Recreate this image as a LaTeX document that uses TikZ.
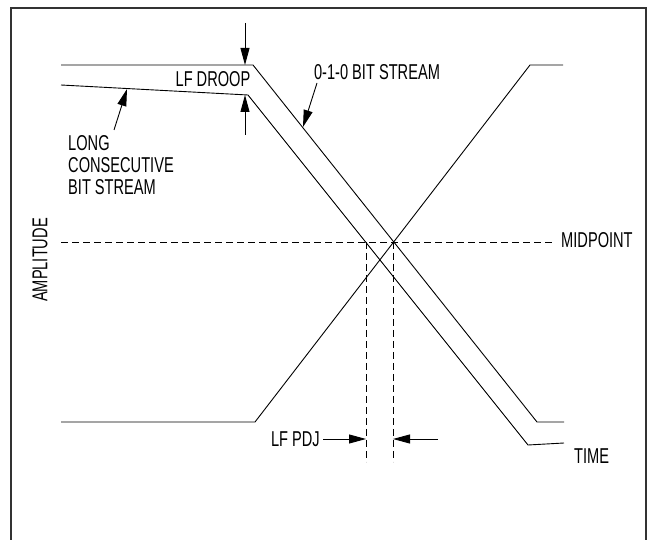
\documentclass[tikz,border=0pt]{standalone}
\usepackage{fontspec}
\setmainfont{Liberation Sans}[FakeStretch=0.68]
\usetikzlibrary{arrows.meta}

\tikzset{
  wave/.style={black,line width=0.9pt,line join=miter},
  guide/.style={black,line width=0.9pt,dash pattern=on 7pt off 4pt},
  callout/.style={black,line width=0.9pt,-{Triangle[length=17pt,width=9pt]}},
  lbl/.style={inner sep=0pt,font=\fontsize{21.5}{22}\selectfont}
}

\begin{document}
\begin{tikzpicture}[x=1pt,y=-1pt,line cap=butt]
\useasboundingbox (0,0) rectangle (649,540);
% frame, open at the bottom
\draw[black!80,line width=2.2pt] (11,540) -- (11,8) -- (646,8) -- (646,540);

% waveforms
\draw[wave] (61,65) -- (253,65) -- (537,422) -- (564,422);
\draw[wave] (61,85) -- (248,95) -- (528,445) -- (564,443);
\draw[wave] (61,422) -- (255,422) -- (530,65) -- (563,65);

% midpoint and jitter guides
\draw[guide] (61,242) -- (553,242);
\coordinate (cross1) at (366,242);
\coordinate (cross2) at (393,242);
\draw[guide] (cross1) -- (366,462);
\draw[guide] (cross2) -- (393,462);

% labels
\node[lbl] (droop) at (213,79) {LF DROOP};
\node[lbl] (stream) at (377,72) {0-1-0 BIT STREAM};
\node[lbl,anchor=west,align=left] (long) at (68,165) {LONG\\CONSECUTIVE\\BIT STREAM};
\node[lbl,anchor=west] (mid) at (561,240) {MIDPOINT};
\node[lbl,anchor=west] (time) at (574,456) {TIME};
\node[lbl,anchor=east] (pdj) at (320,439) {LF PDJ};
\node[lbl,rotate=90] (amp) at (40,260) {AMPLITUDE};

% arrows
\coordinate (droopA) at (245,23);
\coordinate (droopB) at (245,65);
\coordinate (droopC) at (245,135);
\coordinate (droopD) at (245,95);
\draw[callout] (droopA) -- (droopB);
\draw[callout] (droopC) -- (droopD);
\coordinate (longA) at (114,130);
\coordinate (longB) at (127,89);
\draw[callout] (longA) -- (longB);
\coordinate (streamA) at (317,83);
\coordinate (streamB) at (303,127);
\draw[callout] (streamA) -- (streamB);
\coordinate (pdjL) at (366,439);
\coordinate (pdjR) at (393,439);
\coordinate (pdjE) at (438,439);
\draw[callout] ([xshift=3pt]pdj.east) -- (pdjL);
\draw[callout] (pdjE) -- (pdjR);
\end{tikzpicture}
\end{document}
